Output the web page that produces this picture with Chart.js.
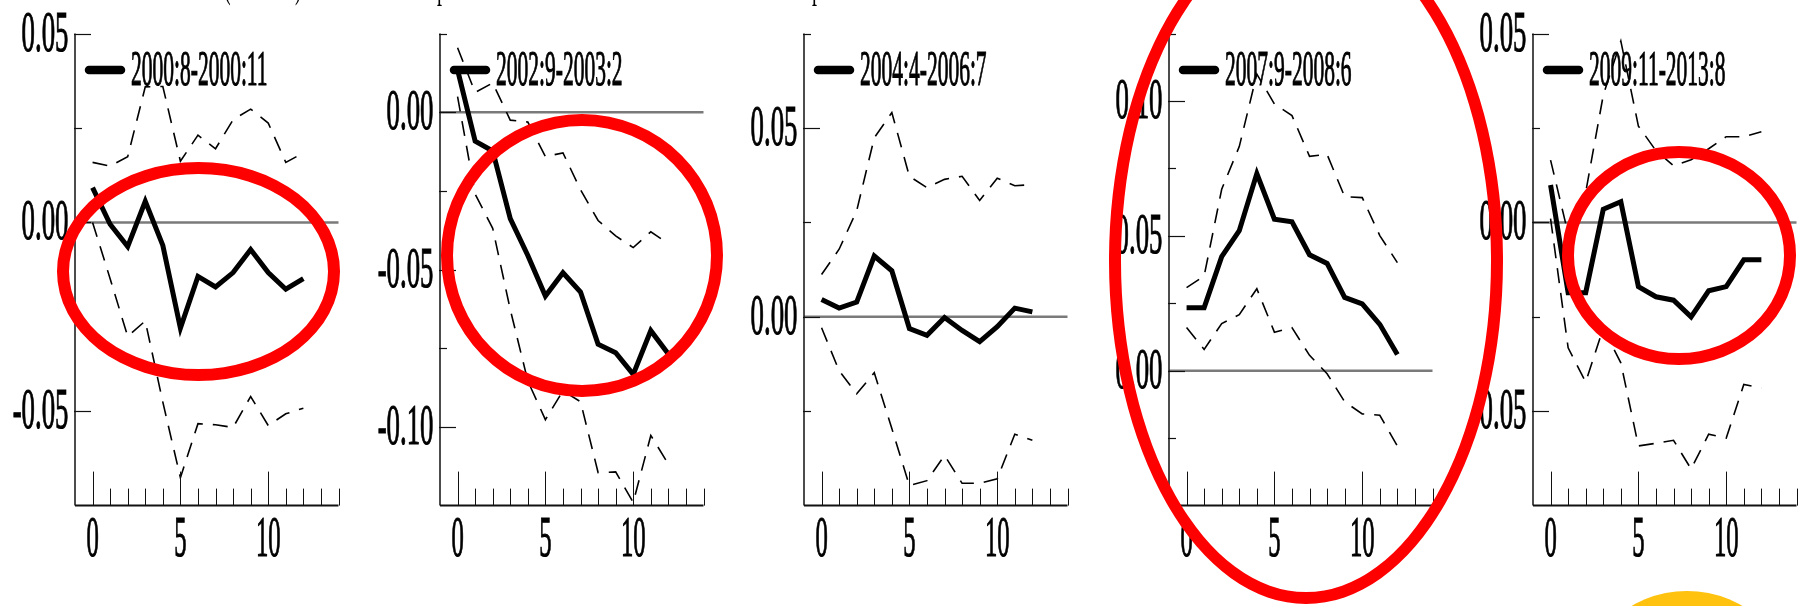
<!DOCTYPE html>
<html lang="en">
<head>
<meta charset="UTF-8" />
<title>Impulse responses by sub-period</title>
<script src="https://cdn.jsdelivr.net/npm/chart.js"></script>
<style>
  html, body { margin: 0; padding: 0; background: #fff; }
  #page { position: relative; width: 1800px; height: 606px; overflow: hidden; }
  #page canvas { position: absolute; top: 0; }
  .ring { position: absolute; box-sizing: border-box; border: 12px solid #ff0000; border-radius: 50%; }
  .sun { position: absolute; border-radius: 50%; background: #ffc20e; }
  .cut { position: absolute; top: -36px; font: 40px/40px "Liberation Serif", serif; transform: scaleX(0.5); transform-origin: left top; }
</style>
</head>
<body>
<div id="page"></div>
<script>
// horizon steps
const steps = [0, 1, 2, 3, 4, 5, 6, 7, 8, 9, 10, 11, 12];
const xTickLabels = ["0", "5", "10"];

// 2000:8-2000:11
const p1Resp  = [0.0092, -0.0005, -0.0064, 0.0056, -0.0061, -0.0280, -0.0143, -0.0171, -0.0133, -0.0072, -0.0133, -0.0177, -0.0149];
const p1Upper = [0.0159, 0.0149, 0.0174, 0.0359, 0.0360, 0.0162, 0.0231, 0.0195, 0.0272, 0.0300, 0.0263, 0.0159, 0.0184];
const p1Lower = [0.0000, -0.0149, -0.0302, -0.0261, -0.0476, -0.0676, -0.0533, -0.0536, -0.0543, -0.0461, -0.0538, -0.0507, -0.0492];
const p1YLabels = ["0.05", "0.00", "-0.05"];

// 2002:9-2003:2
const p2Resp  = [0.0135, -0.0092, -0.0123, -0.0338, -0.0455, -0.0584, -0.0510, -0.0571, -0.0737, -0.0764, -0.0833, -0.0694, -0.0768];
const p2Upper = [0.0205, 0.0063, 0.0093, -0.0025, -0.0031, -0.0141, -0.0129, -0.0246, -0.0344, -0.0393, -0.0430, -0.0380, -0.0418];
const p2Lower = [0.0050, -0.0260, -0.0369, -0.0627, -0.0854, -0.0977, -0.0885, -0.0920, -0.1145, -0.1143, -0.1240, -0.1027, -0.1118];
const p2YLabels = ["0.00", "-0.05", "-0.10"];

// 2004:4-2006:7
const p3Resp  = [0.0046, 0.0023, 0.0039, 0.0161, 0.0122, -0.0031, -0.0049, -0.0002, -0.0036, -0.0066, -0.0026, 0.0023, 0.0013];
const p3Upper = [0.0112, 0.0179, 0.0281, 0.0474, 0.0541, 0.0372, 0.0342, 0.0364, 0.0372, 0.0308, 0.0367, 0.0347, 0.0350];
const p3Lower = [-0.0029, -0.0143, -0.0204, -0.0148, -0.0296, -0.0447, -0.0434, -0.0367, -0.0441, -0.0441, -0.0429, -0.0311, -0.0327];
const p3YLabels = ["0.05", "0.00"];

// 2007:9-2008:6
const p4Resp  = [0.0234, 0.0234, 0.0423, 0.0519, 0.0731, 0.0562, 0.0552, 0.0430, 0.0398, 0.0272, 0.0248, 0.0172, 0.0060];
const p4Upper = [0.0308, 0.0351, 0.0673, 0.0831, 0.1100, 0.0989, 0.0946, 0.0795, 0.0802, 0.0645, 0.0642, 0.0501, 0.0401];
const p4Lower = [0.0160, 0.0079, 0.0175, 0.0208, 0.0304, 0.0143, 0.0160, 0.0057, -0.0011, -0.0115, -0.0160, -0.0165, -0.0279];
const p4YLabels = ["0.10", "0.05", "0.00"];

// 2009:11-2013:8
const p5Resp  = [0.0099, -0.0186, -0.0186, 0.0035, 0.0055, -0.0170, -0.0197, -0.0206, -0.0250, -0.0181, -0.0170, -0.0099, -0.0099];
const p5Upper = [0.0165, -0.0030, 0.0080, 0.0337, 0.0480, 0.0255, 0.0190, 0.0150, 0.0166, 0.0195, 0.0227, 0.0227, 0.0240];
const p5Lower = [0.0010, -0.0332, -0.0423, -0.0280, -0.0372, -0.0592, -0.0585, -0.0577, -0.0653, -0.0561, -0.0571, -0.0429, -0.0439];
const p5YLabels = ["0.05", "0.00", "-0.05"];

const panels = [
  { name: "2000:8-2000:11", resp: p1Resp, upper: p1Upper, lower: p1Lower, yLabels: p1YLabels, yMin: -0.075, yMax: 0.05 },
  { name: "2002:9-2003:2", resp: p2Resp, upper: p2Upper, lower: p2Lower, yLabels: p2YLabels, yMin: -0.125, yMax: 0.025 },
  { name: "2004:4-2006:7", resp: p3Resp, upper: p3Upper, lower: p3Lower, yLabels: p3YLabels, yMin: -0.05, yMax: 0.075 },
  { name: "2007:9-2008:6", resp: p4Resp, upper: p4Upper, lower: p4Lower, yLabels: p4YLabels, yMin: -0.05, yMax: 0.125 },
  { name: "2009:11-2013:8", resp: p5Resp, upper: p5Upper, lower: p5Lower, yLabels: p5YLabels, yMin: -0.075, yMax: 0.05 },
];

const SERIF = "'Liberation Serif', 'Times New Roman', serif";

// condensed serif text, slightly emboldened like the scanned figure
function squeezed(ctx, str, x, y, size, sx, align) {
  ctx.save();
  ctx.font = size + "px " + SERIF;
  ctx.translate(x, y);
  ctx.scale(sx, 1);
  ctx.textAlign = align;
  ctx.textBaseline = "alphabetic";
  ctx.fillStyle = "#000";
  ctx.strokeStyle = "#000";
  ctx.lineWidth = 1.1;
  ctx.fillText(str, 0, 0);
  ctx.strokeText(str, 0, 0);
  ctx.restore();
}

// axes with inward ticks, zero line and the little legend
function panelDecor(panel) {
  return {
    id: "panelDecor",
    beforeDatasetsDraw(chart) {
      const { ctx, chartArea: a, scales: { y } } = chart;
      const y0 = y.getPixelForValue(0);
      ctx.save();
      ctx.strokeStyle = "#7a7a7a";
      ctx.lineWidth = 2.5;
      ctx.beginPath();
      ctx.moveTo(a.left, y0);
      ctx.lineTo(a.right, y0);
      ctx.stroke();
      ctx.restore();
    },
    afterDraw(chart) {
      const { ctx, chartArea: a, scales: { x, y } } = chart;
      ctx.save();
      ctx.strokeStyle = "#111";

      // y axis + ticks every 0.025
      ctx.lineWidth = 1.5;
      ctx.beginPath();
      ctx.moveTo(a.left, a.top);
      ctx.lineTo(a.left, a.bottom);
      ctx.stroke();
      const majors = panel.yLabels.map(parseFloat);
      ctx.lineWidth = 1.2;
      for (let k = Math.round(panel.yMin / 0.025) + 1; k <= Math.round(panel.yMax / 0.025); k++) {
        const v = k * 0.025;
        const py = Math.round(y.getPixelForValue(v)) + 0.5;
        const isMajor = majors.some(m => Math.abs(m - v) < 1e-6);
        ctx.beginPath();
        ctx.moveTo(a.left - 1, py);
        ctx.lineTo(a.left + (isMajor ? 16 : 7), py);
        ctx.stroke();
      }

      // x axis + ticks every step
      ctx.lineWidth = 2;
      ctx.beginPath();
      ctx.moveTo(a.left, a.bottom);
      ctx.lineTo(a.right, a.bottom);
      ctx.stroke();
      ctx.lineWidth = 1;
      for (let v = 0; v <= 14; v++) {
        const px = Math.round(x.getPixelForValue(v)) + 0.5;
        const isMajor = xTickLabels.includes(String(v));
        ctx.beginPath();
        ctx.moveTo(px, a.bottom);
        ctx.lineTo(px, a.bottom - (isMajor ? 34 : 17));
        ctx.stroke();
      }
      ctx.restore();

      // tick labels
      panel.yLabels.forEach(lab => {
        const py = y.getPixelForValue(parseFloat(lab));
        squeezed(ctx, lab, a.left - 6.5, py + 17, 57, 0.47, "right");
      });
      xTickLabels.forEach(lab => {
        const px = x.getPixelForValue(parseFloat(lab));
        squeezed(ctx, lab, px, 556, 56, 0.44, "center");
      });

      // legend
      ctx.save();
      ctx.strokeStyle = "#000";
      ctx.lineWidth = 8.5;
      ctx.lineCap = "round";
      ctx.beginPath();
      ctx.moveTo(a.left + 14, 70);
      ctx.lineTo(a.left + 46, 70);
      ctx.stroke();
      ctx.restore();
      squeezed(ctx, panel.name, a.left + 56, 85, 50, 0.43, "left");
    }
  };
}

const page = document.getElementById("page");
const firstAxis = 75, gap = 364.6, plotW = 263.5, canvasW = 345;

panels.forEach((panel, i) => {
  const cv = document.createElement("canvas");
  cv.width = canvasW;
  cv.height = 606;
  cv.style.left = (firstAxis + gap * i - 75) + "px";
  page.appendChild(cv);

  const pts = arr => steps.map((s, j) => ({ x: s, y: arr[j] }));
  const dashed = { borderColor: "#000", borderWidth: 1.6, borderDash: [15, 10], pointRadius: 0, tension: 0 };

  new Chart(cv.getContext("2d"), {
    type: "line",
    data: {
      datasets: [
        { label: panel.name, data: pts(panel.resp), borderColor: "#000", borderWidth: 5, pointRadius: 0, tension: 0 },
        Object.assign({ label: "upper", data: pts(panel.upper) }, dashed),
        Object.assign({ label: "lower", data: pts(panel.lower) }, dashed),
      ],
    },
    options: {
      responsive: false,
      animation: false,
      layout: { padding: { left: 75, right: canvasW - 75 - plotW, top: 33.6, bottom: 100.4 } },
      scales: {
        x: { type: "linear", min: -1, max: 14, display: false },
        y: { type: "linear", min: panel.yMin, max: panel.yMax, display: false },
      },
      plugins: { legend: { display: false }, tooltip: { enabled: false } },
    },
    plugins: [panelDecor(panel)],
  });
});

// hand-drawn highlights on top of the figure
const rings = [
  { left: 56.7, top: 161.6, w: 283.3, h: 219.2 },
  { left: 441, top: 114, w: 282.3, h: 283.4 },
  { left: 1109, top: -82, w: 394, h: 686 },
  { left: 1561.7, top: 146, w: 234.3, h: 219 },
];
rings.forEach(r => {
  const d = document.createElement("div");
  d.className = "ring";
  Object.assign(d.style, { left: r.left + "px", top: r.top + "px", width: r.w + "px", height: r.h + "px" });
  page.appendChild(d);
});
const sun = document.createElement("div");
sun.className = "sun";
Object.assign(sun.style, { left: "1577px", top: "591px", width: "220px", height: "220px" });
page.appendChild(sun);

// bottom edge of the caption line that is cut off above the figure
[["(", 224], [")", 295], ["p", 437], ["p", 812]].forEach(([ch, left]) => {
  const s = document.createElement("span");
  s.className = "cut";
  s.textContent = ch;
  s.style.left = left + "px";
  page.appendChild(s);
});
</script>
</body>
</html>
